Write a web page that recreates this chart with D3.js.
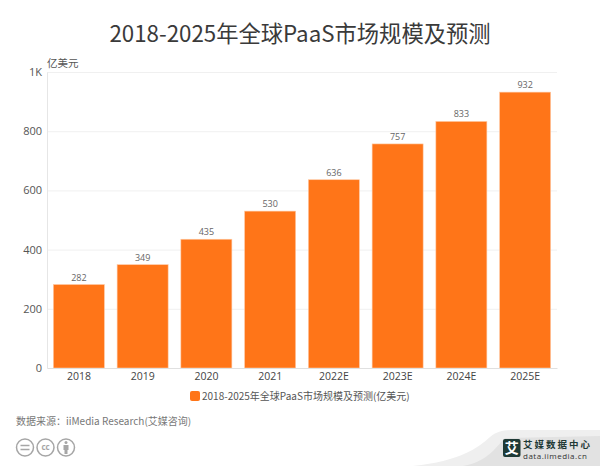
<!DOCTYPE html>
<html>
<head>
<meta charset="utf-8">
<script src="https://cdn.jsdelivr.net/npm/d3@7/dist/d3.min.js"></script>
<style>
    html, body { margin: 0; padding: 0; background: #fff; }
    text { font-family: "Noto Sans CJK SC", "Open Sans", sans-serif; }
    .num { font-family: "Open Sans", "Noto Sans CJK SC", sans-serif; }
</style>
</head>
<body>
<div id="chart"></div>
<script>
const years = ["2018", "2019", "2020", "2021", "2022E", "2023E", "2024E", "2025E"];
const values = [282, 349, 435, 530, 636, 757, 833, 932];
const yTicks = [0, 200, 400, 600, 800, 1000];
const titleText = "2018-2025年全球PaaS市场规模及预测";
const legendText = "2018-2025年全球PaaS市场规模及预测(亿美元)";
const unitText = "亿美元";
const sourceText = "数据来源：iiMedia Research(艾媒咨询)";

const margin = { top: 72, right: 43, bottom: 98, left: 47 };
const width = 600 - margin.left - margin.right;
const height = 466 - margin.top - margin.bottom;

const root = d3.select("#chart").append("svg")
    .attr("width", 600)
    .attr("height", 466)
    .style("display", "block");

const svg = root.append("g")
    .attr("transform", "translate(" + margin.left + "," + margin.top + ")");

// scales
const x = d3.scaleBand().range([0, width]).domain(years).paddingInner(0.2).paddingOuter(0.1);
const y = d3.scaleLinear().range([height, 0]).domain([0, 1000]);

// grid lines
svg.selectAll(".grid")
    .data(yTicks.slice(1))
    .enter().append("line")
    .attr("class", "grid")
    .attr("x1", 0)
    .attr("x2", width)
    .attr("y1", d => y(d) + 0.5)
    .attr("y2", d => y(d) + 0.5)
    .style("stroke", "#f0f0f0");

// y axis
const yAxis = d3.axisLeft(y).tickValues(yTicks).tickSize(0).tickPadding(5)
    .tickFormat(d => d === 1000 ? "1K" : d);
const yG = svg.append("g").attr("class", "y-axis").call(yAxis);
yG.select(".domain").style("stroke", "#e6e6e6");
yG.selectAll("text").attr("class", "num").style("font-size", "11px").style("fill", "#555");

// bars
svg.selectAll(".bar")
    .data(values)
    .enter().append("rect")
    .attr("class", "bar")
    .attr("x", (d, i) => x(years[i]))
    .attr("y", d => y(d))
    .attr("width", x.bandwidth())
    .attr("height", d => height - y(d))
    .style("fill", "#ff7518")
    .style("stroke", "#ffc9a3")
    .style("stroke-width", 0.6);

// value labels
svg.selectAll(".val")
    .data(values)
    .enter().append("text")
    .attr("class", "val num")
    .attr("x", (d, i) => x(years[i]) + x.bandwidth() / 2)
    .attr("y", d => y(d) - 4)
    .attr("text-anchor", "middle")
    .style("font-size", "9px")
    .style("fill", "#666")
    .text(d => d);

// x axis
const xAxis = d3.axisBottom(x).tickSize(0).tickPadding(5);
const xG = svg.append("g")
    .attr("class", "x-axis")
    .attr("transform", `translate(0, ${height})`)
    .call(xAxis);
xG.select(".domain").style("stroke", "#e0e0e0");
xG.selectAll("text").attr("class", "num").style("font-size", "10.5px").style("fill", "#444");

// title, unit
root.append("text")
    .attr("x", 300).attr("y", 42)
    .attr("text-anchor", "middle")
    .style("font-size", "22.3px")
    .style("fill", "#3a3a3a")
    .text(titleText);

root.append("text")
    .attr("x", 47).attr("y", 67)
    .style("font-size", "10.5px")
    .style("fill", "#555")
    .text(unitText);

// legend
root.append("rect")
    .attr("x", 190).attr("y", 391)
    .attr("width", 10).attr("height", 10)
    .attr("rx", 2)
    .style("fill", "#ff7518");
root.append("text")
    .attr("x", 202).attr("y", 399.5)
    .style("font-size", "10px")
    .style("fill", "#555")
    .text(legendText);

// source
root.append("text")
    .attr("x", 16).attr("y", 425)
    .style("font-size", "10px")
    .style("fill", "#777")
    .text(sourceText);

// licence badges
const badges = root.append("g").style("fill", "none").style("stroke", "#a6a6a6").style("stroke-width", 1.5);
[25, 45.5, 66].forEach(cx => badges.append("circle").attr("cx", cx).attr("cy", 447.5).attr("r", 8.5));
badges.append("path").attr("d", "M20.5 445.5h9M20.5 449.5h9");
root.append("text")
    .attr("x", 45.5).attr("y", 450)
    .attr("text-anchor", "middle")
    .attr("class", "num")
    .style("font-size", "8px")
    .style("font-weight", "bold")
    .style("fill", "#a6a6a6")
    .text("cc");
root.append("circle").attr("cx", 66).attr("cy", 442.5).attr("r", 1.5).style("fill", "#a6a6a6");
root.append("path").attr("d", "M63.5 445h5v5h-1v4h-3v-4h-1z").style("fill", "#a6a6a6");

// logo corner
root.append("path")
    .attr("d", "M413 466C460 461 478 448 490 437C497 431 505 430 515 430L600 430L600 466Z")
    .style("fill", "#efefef");
root.append("path")
    .attr("d", "M463 466C490 461 497 445 505 438L600 436L600 466Z")
    .style("fill", "#e2e2e2");
root.append("rect")
    .attr("x", 503).attr("y", 439)
    .attr("width", 17.5).attr("height", 18)
    .attr("rx", 2)
    .style("fill", "#1f3a36");
root.append("text")
    .attr("x", 511.7).attr("y", 453)
    .attr("text-anchor", "middle")
    .style("font-size", "14px")
    .style("font-weight", "bold")
    .style("fill", "#fff")
    .text("艾");
root.append("text")
    .attr("x", 523).attr("y", 448)
    .style("font-size", "9.5px")
    .style("font-weight", "bold")
    .style("letter-spacing", "2px")
    .style("fill", "#1f3a36")
    .text("艾媒数据中心");
root.append("text")
    .attr("x", 523).attr("y", 459)
    .attr("class", "num")
    .style("font-size", "8px")
    .style("letter-spacing", "0.5px")
    .style("fill", "#333")
    .text("data.iimedia.cn");
</script>
</body>
</html>
